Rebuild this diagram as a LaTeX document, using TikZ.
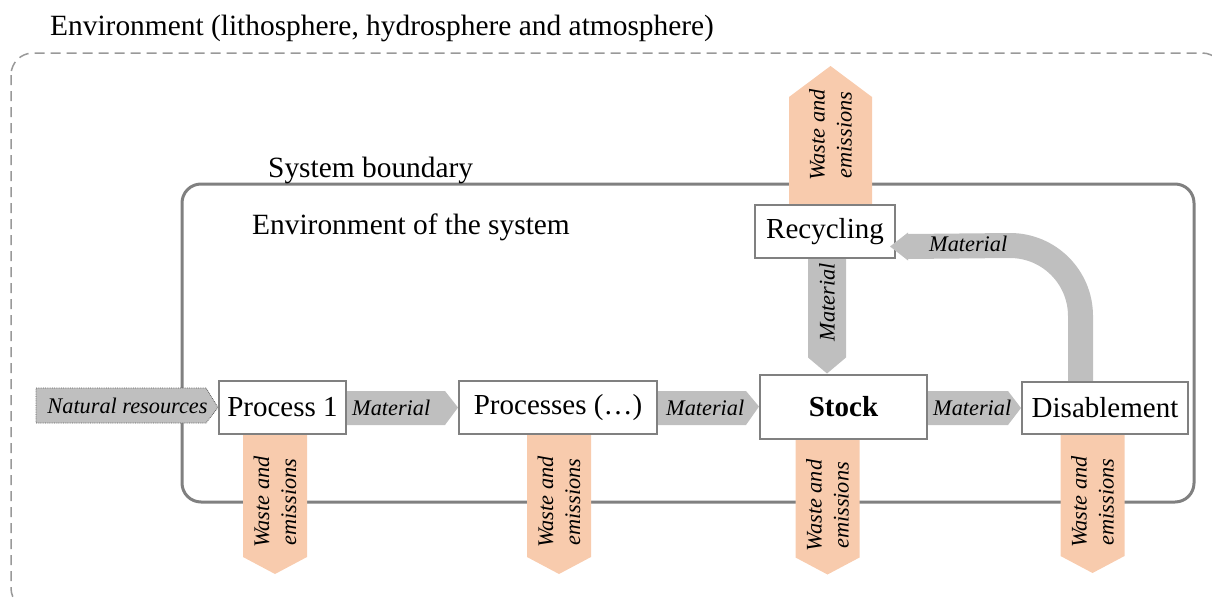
\documentclass[tikz,border=0pt]{standalone}
\usepackage{fontspec}
\setmainfont{Liberation Serif}
\usetikzlibrary{calc,backgrounds}
\definecolor{matgray}{HTML}{BFBFBF}
\definecolor{wastecol}{HTML}{F8CBAD}
\definecolor{linegray}{HTML}{808080}
\definecolor{dashgray}{HTML}{999999}

\begin{document}
\begin{tikzpicture}[x=1pt,y=-1pt,
  box/.style={draw=linegray, line width=2pt, fill=white, inner sep=0pt,
    font=\fontsize{29}{32}\selectfont, minimum height=53pt},
  bigtext/.style={font=\fontsize{29.4}{32}\selectfont, inner sep=0pt, anchor=base west},
  lbl/.style={font=\fontsize{22.3}{24}\selectfont\itshape, inner sep=0pt},
  wlbl/.style={font=\fontsize{22.3}{27}\selectfont\itshape, inner sep=0pt,
    align=center, rotate=90},
  matfill/.style={fill=matgray},
  wastefill/.style={fill=wastecol},
  pics/wastedown/.style={code={
    \fill[wastefill] (-32,0) -- (32,0) -- (32,#1) -- (0,#1+17) -- (-32,#1) -- cycle;}},
  pics/wasteup/.style={code={
    \fill[wastefill] (-41.5,0) -- (41.5,0) -- (41.5,-#1) -- (0,-#1-31) -- (-41.5,-#1) -- cycle;}}]

\useasboundingbox (0,0) rectangle (1212,597);

% processes of the system
\node[box, minimum width=127pt] (p1) at (282.5,407.5) {Process 1};
\node[box, minimum width=198pt] (p2) at (558,407.5) {Processes (…)};
\node[box, minimum width=167pt, minimum height=64pt,
  font=\fontsize{29}{32}\selectfont\bfseries] (stock) at (843.5,406.5) {Stock};
\node[box, minimum width=166pt, minimum height=52pt] (dis) at (1105,408) {Disablement};
\node[box, minimum width=140pt] (rec) at (825,231.5) {Recycling};

\begin{scope}[on background layer]
  % environment (outer) boundary
  \begin{scope}
    \clip (0,0) rectangle (1212,597);
    \draw[dashgray, line width=1.5pt, dash pattern=on 10pt off 6pt, rounded corners=22pt]
      (11,53) rectangle (1224,610);
  \end{scope}
  \node[bigtext] (envtitle) at (50,35) {Environment (lithosphere, hydrosphere and atmosphere)};

  % system boundary
  \draw[linegray, line width=3pt, rounded corners=19pt] (182,184) rectangle (1194,502);
  \node[bigtext] (sysb) at (268,177) {System boundary};
  \node[bigtext] (envsys) at (252,234) {Environment of the system};

  % natural resources input
  \filldraw[fill=matgray, draw=gray!70!black, densely dotted, line width=0.8pt]
    ($(p1.west)+(-182,-19.5)$) -- ($(p1.west)+(-12,-19.5)$) -- (p1.west)
    -- ($(p1.west)+(-12,15.5)$) -- ($(p1.west)+(-182,15.5)$) -- cycle;
  \node[lbl, anchor=base] (nat) at ($(p1.west)+(-90.5,5.5)$) {Natural resources};

  % material flows between processes
  \fill[matfill] ($(p1.east)+(0,-16.5)$) -- ($(p2.west)+(-13,-16.5)$) -- (p2.west)
    -- ($(p2.west)+(-13,17.5)$) -- ($(p1.east)+(0,17.5)$) -- cycle;
  \node[lbl, anchor=west] (m1) at ($(p1.east)+(5,0)$) {Material};

  \fill[matfill] ($(p2.east)+(0,-16.5)$) -- ($(stock.west)+(-13,-15.5)$) -- (stock.west)
    -- ($(stock.west)+(-13,18.5)$) -- ($(p2.east)+(0,17.5)$) -- cycle;
  \node[lbl, anchor=west] (m2) at ($(p2.east)+(8,0)$) {Material};

  \fill[matfill] ($(stock.east)+(0,-15.5)$) -- ($(dis.west)+(-13,-17)$) -- (dis.west)
    -- ($(dis.west)+(-13,17)$) -- ($(stock.east)+(0,18.5)$) -- cycle;
  \node[lbl, anchor=west] (m3) at ($(stock.east)+(5,1)$) {Material};

  % material from recycling back to the stock
  \coordinate (vm) at ($(rec.south)+(2,0)$);
  \fill[matfill] ($(vm)+(-19,0)$) -- ($(vm)+(19,0)$) -- ($(vm |- stock.north)+(19,-16)$)
    -- (vm |- stock.north) -- ($(vm |- stock.north)+(-19,-16)$) -- cycle;
  \node[lbl, rotate=90] (m4) at ($(vm)+(0,43)$) {Material};

  % material from disablement to recycling
  \coordinate (cv) at ($(dis.north)+(-24.5,0)$);
  \draw[matgray, line width=25pt] (cv) -- ++(0,-65)
    arc[start angle=0, end angle=-90, radius=70.5] -- ($(rec.east)+(12,15)$);
  \node[lbl, anchor=west] (m5) at ($(rec.east)+(33,12)$) {Material};

  % waste and emissions leaving the system
  \pic at ($(p1.south)+(-7.5,0)$) {wastedown=122};
  \node[wlbl] (w1) at ($(p1.south)+(-7.5,67)$) {Waste and\\emissions};
  \pic at ($(p2.south)+(1,0)$) {wastedown=122};
  \node[wlbl] (w2) at ($(p2.south)+(1,67)$) {Waste and\\emissions};
  \pic at ($(stock.south)+(-16,0)$) {wastedown=118};
  \node[wlbl] (w3) at ($(stock.south)+(-16,66)$) {Waste and\\emissions};
  \pic at ($(dis.south)+(-12.5,0)$) {wastedown=121};
  \node[wlbl] (w4) at ($(dis.south)+(-12.5,67)$) {Waste and\\emissions};
  \pic at ($(rec.north)+(5.5,0)$) {wasteup=107};
  \node[wlbl] (w5) at ($(rec.north)+(5.5,-69)$) {Waste and\\emissions};
\end{scope}

% arrow head entering recycling
\fill[matfill] ($(rec.east)+(12,1)$) -- ($(rec.east)+(-6,15)$) -- ($(rec.east)+(12,29)$) -- cycle;
\end{tikzpicture}
\end{document}
